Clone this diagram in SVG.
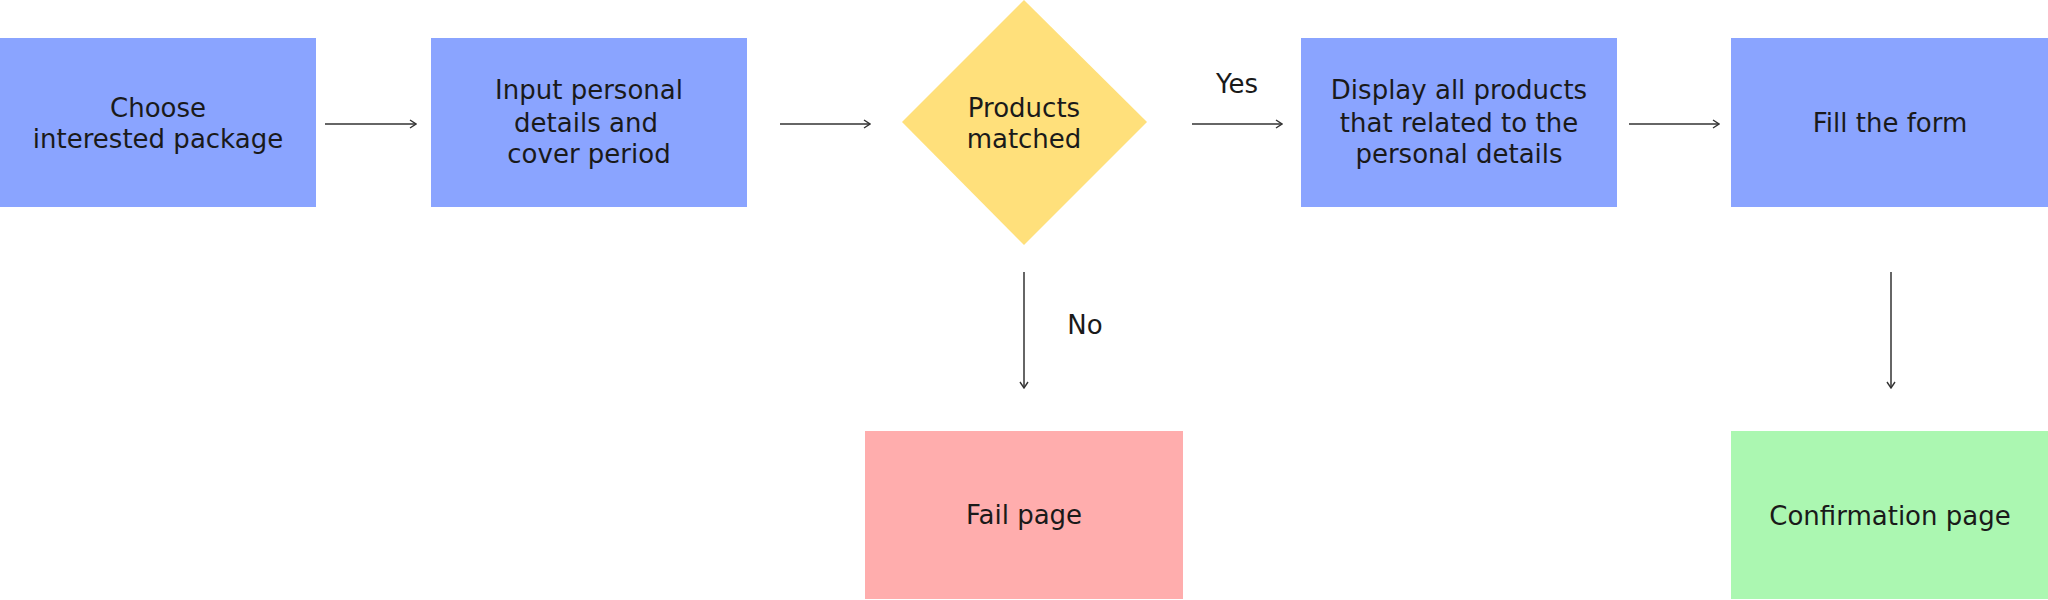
<svg xmlns="http://www.w3.org/2000/svg" width="2048" height="600" viewBox="0 0 2048 600">
  <defs>
    <marker id="arrow" viewBox="0 0 10 10" refX="9" refY="5" markerWidth="10" markerHeight="10" markerUnits="userSpaceOnUse" orient="auto">
      <path d="M3,1 L9,5 L3,9" fill="none" stroke="#333333" stroke-width="1.4"/>
    </marker>
    <style>
      .t { font-family: "DejaVu Sans", "Liberation Sans", sans-serif; font-size: 26px; fill: #1a1a1a; text-anchor: middle; }
      .blue { fill: #8AA4FF; }
      .yellow { fill: #FFE07B; }
      .pink { fill: #FFADAD; }
      .green { fill: #ABF7B1; }
      .conn { stroke: #333333; stroke-width: 1.5; fill: none; marker-end: url(#arrow); }
    </style>
  </defs>
  <rect width="2048" height="600" fill="#ffffff"/>

  <g id="connectors">
    <line class="conn" x1="325" y1="124" x2="416" y2="124"/>
    <line class="conn" x1="780" y1="124" x2="870" y2="124"/>
    <line class="conn" x1="1192" y1="124" x2="1282" y2="124"/>
    <line class="conn" x1="1629" y1="124" x2="1719" y2="124"/>
    <line class="conn" x1="1024" y1="272" x2="1024" y2="388"/>
    <line class="conn" x1="1891" y1="272" x2="1891" y2="388"/>
    <text class="t" x="1237" y="93">Yes</text>
    <text class="t" x="1085" y="334">No</text>
  </g>

  <g id="node-choose">
    <rect class="blue" x="0" y="38" width="316" height="169"/>
    <text class="t" x="158" y="117">Choose</text>
    <text class="t" x="158" y="148">interested package</text>
  </g>

  <g id="node-input">
    <rect class="blue" x="431" y="38" width="316" height="169"/>
    <text class="t" x="589" y="99">Input personal</text>
    <text class="t" x="586" y="132">details and</text>
    <text class="t" x="589" y="163">cover period</text>
  </g>

  <g id="node-decision">
    <polygon class="yellow" points="1024,0 1147,122 1024,245 902,122"/>
    <text class="t" x="1024" y="117">Products</text>
    <text class="t" x="1024" y="148">matched</text>
  </g>

  <g id="node-display">
    <rect class="blue" x="1301" y="38" width="316" height="169"/>
    <text class="t" x="1459" y="99">Display all products</text>
    <text class="t" x="1459" y="132">that related to the</text>
    <text class="t" x="1459" y="163">personal details</text>
  </g>

  <g id="node-fill">
    <rect class="blue" x="1731" y="38" width="317" height="169"/>
    <text class="t" x="1890" y="132">Fill the form</text>
  </g>

  <g id="node-fail">
    <rect class="pink" x="865" y="431" width="318" height="168"/>
    <text class="t" x="1024" y="524">Fail page</text>
  </g>

  <g id="node-confirm">
    <rect class="green" x="1731" y="431" width="317" height="168"/>
    <text class="t" x="1890" y="525">Confirmation page</text>
  </g>
</svg>
